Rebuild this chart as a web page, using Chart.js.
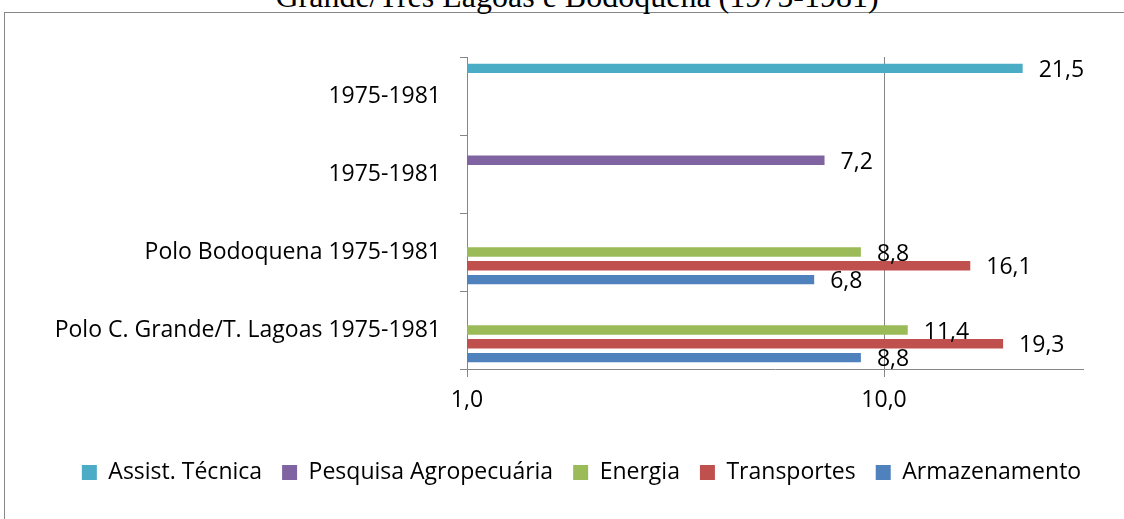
<!DOCTYPE html>
<html>
<head>
<meta charset="utf-8">
<script src="https://cdn.jsdelivr.net/npm/chart.js@4/dist/chart.umd.min.js"></script>
<style>
  html, body { margin: 0; padding: 0; background: #fff; overflow: hidden; }
  body { width: 1124px; height: 519px; position: relative; }
  #frame { position: absolute; left: 4px; top: 12px; width: 1200px; height: 600px;
           border: 1px solid #878787; box-sizing: border-box; }
  #title { position: absolute; left: 15px; top: -20px; width: 1124px; text-align: center;
           font-family: "Liberation Serif", "Times New Roman", serif; font-size: 32px;
           line-height: 32px; color: #000; white-space: nowrap; }
  #wrap { position: absolute; left: 0; top: 0; width: 1124px; height: 519px; }
</style>
</head>
<body>
<div id="frame"></div>
<div id="title">Grande/Três Lagoas e Bodoquena (1975-1981)</div>
<div id="wrap"><canvas id="chart"></canvas></div>
<script>
const categories = ['1975-1981', '1975-1981', 'Polo Bodoquena 1975-1981', 'Polo C. Grande/T. Lagoas 1975-1981'];
const seriesNames = ['Assist. Técnica', 'Pesquisa Agropecuária', 'Energia', 'Transportes', 'Armazenamento'];
const assistTecnica = [21.5, null, null, null];
const pesquisaAgro = [null, 7.2, null, null];
const energia = [null, null, 8.8, 11.4];
const transportes = [null, null, 16.1, 19.3];
const armazenamento = [null, null, 6.8, 8.8];
const xTicks = [1, 10];
const colors = ['#4BACC6', '#8064A2', '#9BBB59', '#C0504D', '#4F81BD'];

const FONT = '"Open Sans", sans-serif';
const fmt = v => v.toFixed(1).replace('.', ',');

// value labels drawn to the right of each bar
const barLabels = {
  id: 'barLabels',
  afterDatasetsDraw(chart) {
    const ctx = chart.ctx;
    ctx.save();
    ctx.font = '23px ' + FONT;
    ctx.fillStyle = '#000';
    ctx.textAlign = 'left';
    ctx.textBaseline = 'middle';
    chart.data.datasets.forEach((ds, i) => {
      const meta = chart.getDatasetMeta(i);
      meta.data.forEach((bar, j) => {
        const v = ds.data[j];
        if (v == null) return;
        ctx.fillText(fmt(v), bar.x + 16, bar.y + 2);
      });
    });
    ctx.restore();
  }
};

// legend in the original sits a bit right of the canvas centre
const shiftLegend = {
  id: 'shiftLegend',
  afterLayout(chart) {
    if (chart.legend) {
      chart.legend.left += 40;
      chart.legend.right += 40;
    }
  }
};

const allSeries = [assistTecnica, pesquisaAgro, energia, transportes, armazenamento];

new Chart(document.getElementById('chart'), {
  type: 'bar',
  data: {
    labels: categories,
    datasets: allSeries.map((d, i) => ({
      label: seriesNames[i],
      data: d,
      backgroundColor: colors[i],
      barPercentage: 0.68,
      categoryPercentage: 0.885
    }))
  },
  options: {
    indexAxis: 'y',
    responsive: true,
    maintainAspectRatio: false,
    animation: false,
    layout: { padding: { top: 57, right: 41, left: 0, bottom: 25 } },
    scales: {
      x: {
        type: 'logarithmic',
        min: 1,
        max: 30,
        afterBuildTicks: s => { s.ticks = xTicks.map(v => ({ value: v })); },
        afterFit: s => { s.height = 72; },
        border: { color: '#868686', width: 1 },
        grid: { color: '#868686', tickLength: 8, lineWidth: 1 },
        ticks: {
          font: { family: FONT, size: 23 },
          color: '#000',
          padding: 10,
          maxRotation: 0,
          callback: v => fmt(v)
        }
      },
      y: {
        afterFit: s => { s.width = 467; },
        border: { color: '#868686', width: 1 },
        grid: { offset: true, drawOnChartArea: false, color: '#868686', tickLength: 7 },
        ticks: { font: { family: FONT, size: 23 }, color: '#000', padding: 19 }
      }
    },
    plugins: {
      legend: {
        position: 'bottom',
        labels: {
          font: { family: FONT, size: 23 },
          color: '#000',
          boxWidth: 15,
          boxHeight: 15,
          padding: 20
        }
      },
      tooltip: { enabled: false }
    }
  },
  plugins: [barLabels, shiftLegend]
});
</script>
</body>
</html>
